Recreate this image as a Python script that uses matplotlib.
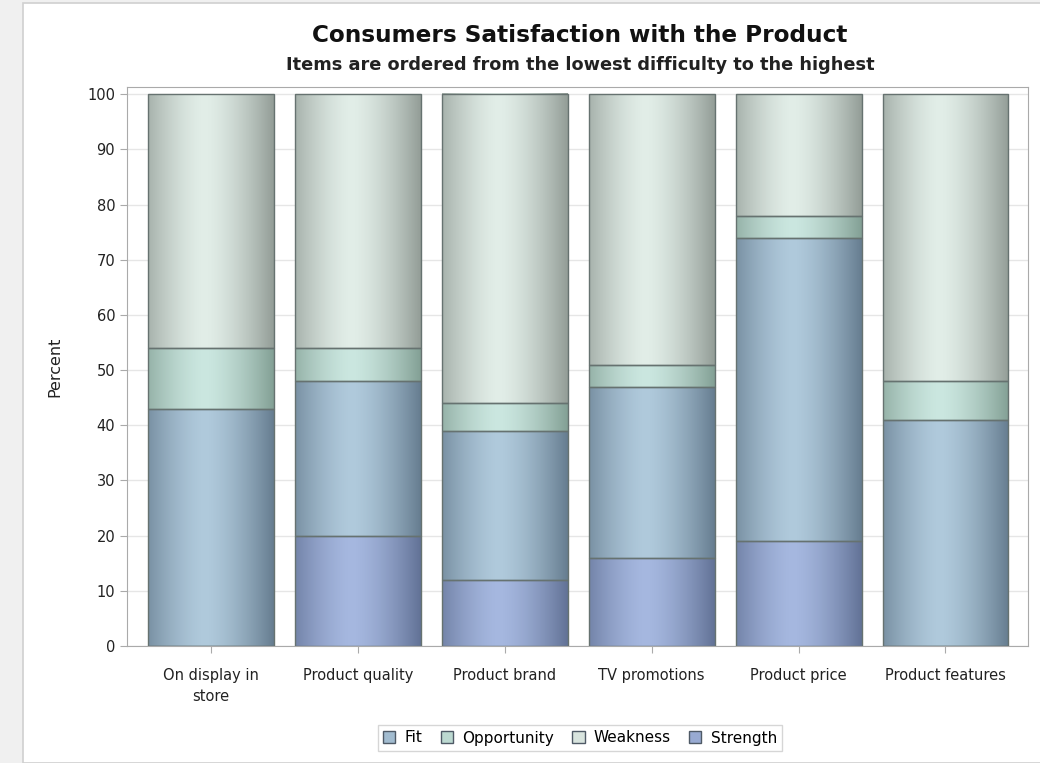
import numpy as np
import matplotlib.pyplot as plt
from matplotlib.patches import Rectangle, Patch
from matplotlib.colors import to_rgb

# data
categories = ['On display in\nstore', 'Product quality', 'Product brand',
              'TV promotions', 'Product price', 'Product features']
strength = [0, 20, 12, 16, 19, 0]
fit = [43, 28, 27, 31, 55, 41]
opportunity = [11, 6, 5, 4, 4, 7]
weakness = [46, 46, 56, 49, 22, 52]

series = [('Strength', strength), ('Fit', fit),
          ('Opportunity', opportunity), ('Weakness', weakness)]
# (light, dark) colours for the shaded bars
shades = {'Fit': ('#B0CADC', '#667D90'),
          'Opportunity': ('#CBE7E0', '#83A095'),
          'Weakness': ('#E2EEE8', '#939D97'),
          'Strength': ('#A6B8E0', '#627296')}
mids = {'Fit': '#A2BCD0', 'Opportunity': '#BCD9D1',
        'Weakness': '#D8E4DE', 'Strength': '#98AAD2'}

fig = plt.figure(figsize=(10.4, 7.63), dpi=100)
fig.patch.set_facecolor('#F0F0F0')
fig.add_artist(Rectangle((23 / 1040, 0), 1.0, (763 - 3) / 763, transform=fig.transFigure,
                         facecolor='white', edgecolor='#D0D0D0', linewidth=1.2, zorder=0))

ax = fig.add_axes([127 / 1040, (763 - 646) / 763, (1028 - 127) / 1040, (646 - 87) / 763])

def gradient_img(light, dark, n=200):
    t = np.linspace(0, 1, n)
    f = np.clip(np.abs(t - 0.45) / 0.55, 0, 1) ** 1.5
    l = np.array(to_rgb(light))
    d = np.array(to_rgb(dark))
    row = l[None, :] * (1 - f[:, None]) + d[None, :] * f[:, None]
    return row[None, :, :]

width = 0.857
x = np.arange(len(categories))
bottom = np.zeros(len(categories))
for name, vals in series:
    vals = np.array(vals, dtype=float)
    img = gradient_img(*shades[name])
    for i in range(len(categories)):
        if vals[i] <= 0:
            continue
        x0 = x[i] - width / 2
        ax.imshow(img, extent=[x0, x0 + width, bottom[i], bottom[i] + vals[i]],
                  aspect='auto', interpolation='bilinear', zorder=2)
    ax.bar(x, vals, width, bottom=bottom, facecolor='none',
           edgecolor='#667270', linewidth=1.0, zorder=3)
    bottom += vals

ax.set_xlim(-0.572, 5.562)
ax.set_ylim(0, 101.3)
ax.set_yticks(np.arange(0, 101, 10))
ax.set_xticks(x)
ax.set_xticklabels(categories, fontsize=10.5, color='#222222', linespacing=1.45)
ax.tick_params(axis='y', labelsize=10.5, colors='#222222', length=5, color='#AAAAAA')
ax.tick_params(axis='x', length=5, color='#AAAAAA', pad=11)
ax.yaxis.grid(True, color='#E6E6E6', linewidth=1, zorder=0)
ax.set_axisbelow(True)
for s in ax.spines.values():
    s.set_color('#AAAAAA')
ax.set_ylabel('Percent', fontsize=11.5, labelpad=18, color='#222222')

fig.text(580 / 1040, 1 - 35 / 763, 'Consumers Satisfaction with the Product',
         ha='center', va='center', fontsize=16.7, fontweight='bold', color='#111111')
fig.text(580 / 1040, 1 - 65 / 763, 'Items are ordered from the lowest difficulty to the highest',
         ha='center', va='center', fontsize=12.8, fontweight='bold', color='#222222')

handles = [Patch(facecolor=mids[n], edgecolor='#4F5A66', label=n)
           for n in ['Fit', 'Opportunity', 'Weakness', 'Strength']]
leg = fig.legend(handles=handles, loc='center', bbox_to_anchor=(580 / 1040, 1 - 738 / 763),
                 ncol=4, frameon=True, fontsize=11, handlelength=0.8, handleheight=0.8,
                 handletextpad=0.6, columnspacing=1.2, fancybox=False, borderpad=0.35,
                 borderaxespad=0)
leg.get_frame().set_edgecolor('#CCCCCC')
leg.get_frame().set_linewidth(1)
# widen the legend box like the reference (left padding)
fig.canvas.draw()

fig.savefig('out.png', dpi=100, facecolor=fig.get_facecolor())
